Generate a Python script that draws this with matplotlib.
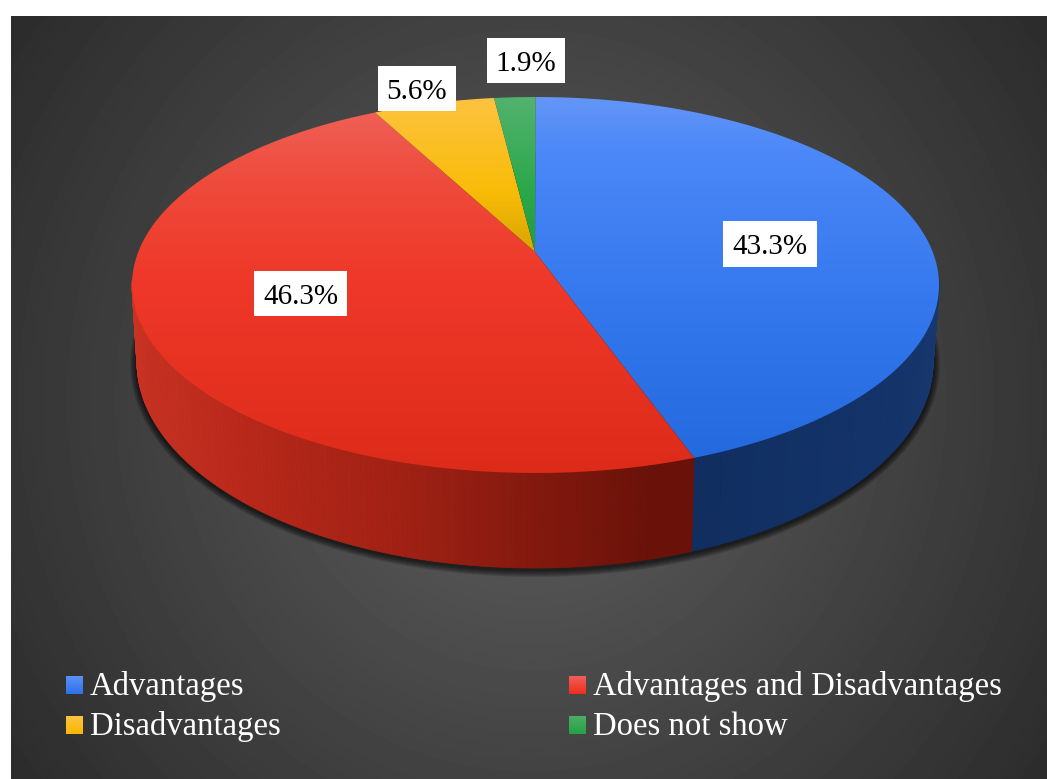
import numpy as np
import matplotlib
matplotlib.use("Agg")
import matplotlib.pyplot as plt
from matplotlib.patches import Polygon, Rectangle, Ellipse

categories = ["Advantages", "Advantages and Disadvantages", "Disadvantages", "Does not show"]
values = [43.3, 46.3, 5.6, 1.9]
value_labels = ["43.3%", "46.3%", "5.6%", "1.9%"]

W, H = 1047, 779
plt.rcParams['font.family'] = ['Liberation Serif', 'DejaVu Serif']

# pie geometry in pixels: top ellipse, bottom ellipse, and the apex seen in perspective
TOP = (535.5, 285, 403.5, 188)
BOT = (535, 362, 398, 206)
APEX = (535, 252)
K = (TOP[1] - APEX[1]) / TOP[3]

face_stops = [
    [(97, "#6496f6"), (150, "#4c88f8"), (300, "#3578ee"), (474, "#2268dc")],
    [(97, "#f0645c"), (180, "#ee4b3c"), (280, "#ef3829"), (474, "#dd2b19")],
    [(97, "#fdc340"), (190, "#f9bc08"), (252, "#d8a400")],
    [(97, "#52b26e"), (190, "#2ba84a"), (252, "#249a40")],
]
wall_x = [[640, 900, 940], [130, 250, 400, 650], [0, 1047], [0, 1047]]
wall_colors = [["#0f2c5c", "#14346b", "#17386f"],
               ["#ca3323", "#b7281a", "#a12114", "#6a1209"],
               ["#a87c00", "#a87c00"], ["#1c6e32", "#1c6e32"]]
swatch_stops = [("#5b90f6", "#2f72ea"), ("#ef5f57", "#ee2f1f"),
                ("#fdc340", "#f8b800"), ("#4cae66", "#25a244")]


def hex2rgb(c):
    return np.array(matplotlib.colors.to_rgb(c))


def ramp(pos, stops):
    ys = [s[0] for s in stops]
    cols = np.array([hex2rgb(s[1]) for s in stops])
    return np.stack([np.interp(pos, ys, cols[:, i]) for i in range(3)], axis=-1)


def rim(t):
    # clockwise angle from 12 o'clock on the disc -> unit ellipse coordinates
    u, v = np.sin(t), np.cos(t)
    den = 1 + K * v
    return u * np.sqrt(1 - K ** 2) / den, (v + K) / den


def on_ellipse(e, u, v):
    return e[0] + e[2] * u, e[1] - e[3] * v


fig = plt.figure(figsize=(W / 100, H / 100), dpi=100, facecolor="white")
ax = fig.add_axes([0, 0, 1, 1])
ax.axis("off")

# radial background panel
yy, xx = np.mgrid[16:H, 11:W]
d = np.hypot((yy - 400) / 380 * 30, (xx - 530) / 530 * 43.7)
bg = np.clip(96 - d, 0, 255) / 255
ax.imshow(bg, extent=(11, W, H, 16), cmap="gray", vmin=0, vmax=1, aspect="auto", zorder=0)

# soft shadow under the disc
for i in range(1, 8):
    ax.add_patch(Ellipse((BOT[0], BOT[1] + 2), 2 * (BOT[2] + i), 2 * (BOT[3] + i),
                         fc="black", ec="none", alpha=0.12, zorder=1))

shares = np.array(values) / np.sum(values)
edges = np.concatenate([[0], np.cumsum(shares)]) * 2 * np.pi

# side wall, thin strips shaded by x
for i in range(len(values)):
    ts = np.linspace(edges[i], edges[i + 1], 260)
    u, v = rim(ts)
    xt, yt = on_ellipse(TOP, u, v)
    xb, yb = on_ellipse(BOT, u, v)
    for j in range(len(ts) - 1):
        if v[j] > 0.02 and v[j + 1] > 0.02:
            continue
        xm = (xt[j] + xt[j + 1]) / 2
        col = [np.interp(xm, wall_x[i], [hex2rgb(c)[n] for c in wall_colors[i]]) for n in range(3)]
        ax.fill([xt[j], xt[j + 1], xb[j + 1], xb[j]], [yt[j], yt[j + 1], yb[j + 1], yb[j]],
                fc=col, ec=col, lw=0.6, zorder=2)

# top face wedges with a vertical gradient
gy = np.arange(97, 476)
for i in range(len(values)):
    ts = np.linspace(edges[i], edges[i + 1], 300)
    px, py = on_ellipse(TOP, *rim(ts))
    pts = np.column_stack([np.r_[APEX[0], px], np.r_[APEX[1], py]])
    poly = Polygon(pts, closed=True, fc="none", ec="none", transform=ax.transData)
    ax.add_patch(poly)
    grad = ramp(gy, face_stops[i])[:, None, :]
    im = ax.imshow(grad, extent=(0, W, 476, 97), aspect="auto", zorder=3, interpolation="bilinear")
    im.set_clip_path(poly)

# value labels in white boxes
label_boxes = [(723, 221, 94, 46), (254, 271, 93, 45), (378, 66, 78, 45), (487, 38, 78, 45)]
for (bx, by, bw, bh), txt in zip(label_boxes, value_labels):
    ax.add_patch(Rectangle((bx, by), bw, bh, fc="white", ec="none", zorder=5))
    ax.text(bx + bw / 2, by + bh / 2 + 3, txt, ha="center", va="center", fontsize=21,
            color="black", zorder=6)

# legend
legend_pos = [(66, 676), (569, 676), (66, 716), (569, 716)]
for (lx, ly), name, st in zip(legend_pos, categories, swatch_stops):
    grad = ramp(np.arange(18), [(0, st[0]), (17, st[1])])[:, None, :]
    ax.imshow(grad, extent=(lx, lx + 17, ly + 18, ly), aspect="auto", zorder=5)
    ax.text(lx + 24, ly + 11, name, ha="left", va="center", fontsize=23.6, color="white", zorder=6)

ax.set_xlim(0, W)
ax.set_ylim(H, 0)
fig.savefig("out.png", dpi=100, facecolor="white")
